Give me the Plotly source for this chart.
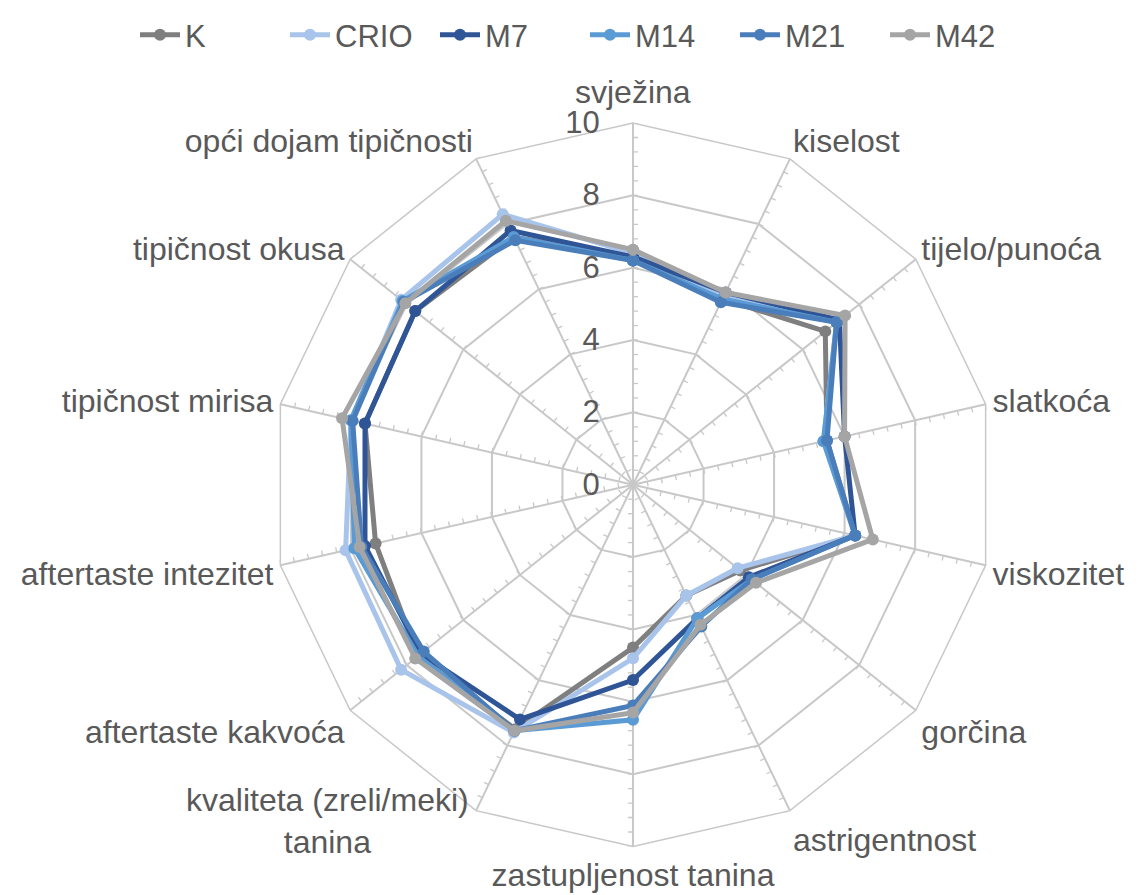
import math
import plotly.graph_objects as go

categories = [
    "svježina", "kiselost", "tijelo/punoća", "slatkoća", "viskozitet",
    "gorčina", "astrigentnost", "zastupljenost tanina",
    "kvaliteta (zreli/meki) tanina", "aftertaste kakvoća",
    "aftertaste intezitet", "tipičnost mirisa", "tipičnost okusa",
    "opći dojam tipičnosti",
]
# text shown at each spoke by the axis ('' where the label is drawn as a note)
axis_labels = [
    "", "kiselost", "tijelo/punoća", "slatkoća", "viskozitet",
    "gorčina", "astrigentnost", "zastupljenost tanina",
    "", "aftertaste kakvoća",
    "aftertaste intezitet", "tipičnost mirisa", "tipičnost okusa",
    "opći dojam tipičnosti",
]
note_labels = {0: "svježina", 8: "kvaliteta (zreli/meki)<br>tanina"}

K    = [6.3, 5.7, 6.8, 5.5, 6.3, 3.8, 3.4, 4.5, 7.5, 7.6, 7.3, 7.6, 7.7, 7.6]
CRIO = [6.4, 5.8, 7.2, 5.4, 6.3, 3.7, 3.4, 4.8, 7.6, 8.2, 8.15, 8.0, 8.2, 8.3]
M7   = [6.3, 5.9, 7.3, 6.0, 6.3, 4.1, 4.1, 5.4, 7.2, 7.5, 7.6, 7.6, 7.7, 7.8]
M14  = [6.2, 5.7, 7.2, 5.4, 6.3, 4.2, 4.1, 6.5, 7.55, 7.6, 7.9, 8.0, 8.15, 7.6]
M21  = [6.2, 5.6, 7.2, 5.5, 6.3, 4.2, 4.35, 6.1, 7.55, 7.4, 7.7, 7.95, 8.1, 7.5]
M42  = [6.5, 5.9, 7.5, 6.0, 6.8, 4.35, 4.3, 6.3, 7.55, 7.7, 7.75, 8.25, 8.05, 8.1]

series_names = ["K", "CRIO", "M7", "M14", "M21", "M42"]
series_values = [K, CRIO, M7, M14, M21, M42]
colors = ["#7F7F7F", "#A9C4EB", "#2F5597", "#5B9BD5", "#4A7EBB", "#A5A5A5"]

radial_ticks = [0, 2, 4, 6, 8, 10]

n = len(categories)
spoke_angles = [i * 360.0 / n for i in range(n)]

fig = go.Figure()

# minor tick marks along each spoke (clockwise side), drawn in an underlying polar
tick_r, tick_t = [], []
h = 0.14
step = 0.4
k = 1
while k * step <= 10.0001:
    r = k * step
    for a in spoke_angles:
        tick_r += [r, math.hypot(r, h), None]
        tick_t += [a, a + math.degrees(math.atan2(h, r)), None]
    k += 1
fig.add_trace(go.Scatterpolar(
    r=tick_r, theta=tick_t, mode="lines", subplot="polar",
    line=dict(color="#C8C8C8", width=1.3),
    showlegend=False, hoverinfo="skip",
))

for name, vals, col in zip(series_names, series_values, colors):
    fig.add_trace(go.Scatterpolar(
        r=vals + vals[:1], theta=categories + categories[:1],
        mode="lines+markers", name=name, subplot="polar2",
        line=dict(color=col, width=5),
        marker=dict(color=col, size=12),
    ))

# page has an 8px body margin; figure coordinates are page coordinates minus 8
W, H = 1126, 887
cx, cy, R = 625, 473, 365
dom = dict(x=[(cx - R) / W, (cx + R) / W],
           y=[(H - cy - R) / H, (H - cy + R) / H])

# labels drawn as notes next to their spoke ends
note_place = {0: dict(dx=0, dy=-31, xanchor="center"),
              8: dict(dx=-4, dy=10, xanchor="right")}
for idx, txt in note_labels.items():
    ang = math.radians(spoke_angles[idx])
    vx = cx + R * math.sin(ang)
    vy = cy - R * math.cos(ang)
    p = note_place[idx]
    fig.add_annotation(
        text=txt, xref="paper", yref="paper",
        x=(vx + p["dx"]) / W, y=(H - (vy + p["dy"])) / H,
        xanchor=p["xanchor"], yanchor="middle", align="center", showarrow=False,
        font=dict(size=32, color="#595959"),
    )

fig.update_layout(
    width=W, height=H,
    margin=dict(l=0, r=0, t=0, b=0),
    paper_bgcolor="white", plot_bgcolor="white",
    font=dict(family="Liberation Sans, Arial, sans-serif", size=32, color="#595959"),
    legend=dict(
        orientation="h", x=127 / W, xanchor="left", y=1 - 19 / H, yanchor="middle",
        font=dict(size=31, color="#595959"), itemwidth=40,
        entrywidth=95, entrywidthmode="pixels",
        traceorder="normal", tracegroupgap=0,
    ),
    polar=dict(
        domain=dom, bgcolor="white",
        angularaxis=dict(direction="clockwise", rotation=90, thetaunit="degrees",
                         showgrid=False, showline=False, showticklabels=False, ticks=""),
        radialaxis=dict(range=[0, 10], showgrid=False, showline=False,
                        showticklabels=False, ticks=""),
    ),
    polar2=dict(
        domain=dom, bgcolor="rgba(0,0,0,0)",
        gridshape="linear",
        angularaxis=dict(
            direction="clockwise", rotation=90,
            categoryorder="array", categoryarray=categories,
            tickmode="array", tickvals=categories, ticktext=axis_labels,
            showline=True, linecolor="#C8C8C8", linewidth=1.5,
            gridcolor="#C8C8C8", gridwidth=1.5,
            ticks="", tickfont=dict(size=32, color="#595959"),
        ),
        radialaxis=dict(
            range=[0, 10], tickmode="array", tickvals=radial_ticks,
            angle=90, tickangle=90, side="counterclockwise",
            ticks="outside", ticklen=22, tickcolor="rgba(0,0,0,0)",
            showline=False, gridcolor="#C8C8C8", gridwidth=1.5,
            tickfont=dict(size=31, color="#595959"),
        ),
    ),
)

fig.write_html("out.html")
